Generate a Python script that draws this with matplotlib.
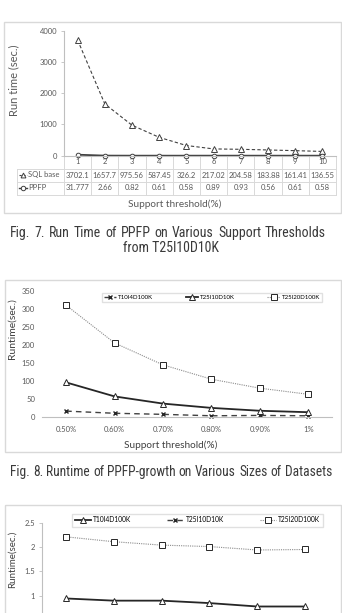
import numpy as np
import matplotlib.pyplot as plt
from matplotlib.patches import Rectangle
from matplotlib.ticker import FormatStrFormatter

plt.rcParams['font.family'] = ['Lato', 'DejaVu Sans']

# Fig. 7 - run time of PPFP vs SQL base (T25I10D10K)
thresholds7 = [1, 2, 3, 4, 5, 6, 7, 8, 9, 10]
sql_base = [3702.1, 1657.7, 975.56, 587.45, 326.2, 217.02, 204.58, 183.88, 161.41, 136.55]
ppfp = [31.777, 2.66, 0.82, 0.61, 0.58, 0.89, 0.93, 0.56, 0.61, 0.58]

# Fig. 8 - runtime on various sizes of datasets
thresholds8 = ['0.50%', '0.60%', '0.70%', '0.80%', '0.90%', '1%']
f8_t10i4d100k = [15, 9, 6, 2, 3, 2]
f8_t25i10d10k = [95, 56, 36, 24, 16, 12]
f8_t25i20d100k = [310, 205, 144, 104, 79, 62]

# third chart (cut off at the bottom of the page)
f9_t10i4d100k = [0.945, 0.9, 0.9, 0.85, 0.78, 0.78]
f9_t25i10d10k = [0.35, 0.33, 0.31, 0.3, 0.28, 0.27]
f9_t25i20d100k = [2.21, 2.11, 2.04, 2.01, 1.94, 1.95]

W, H = 342, 613
fig = plt.figure(figsize=(W / 100, H / 100), dpi=100)


def rect(left, top, right, bottom):
    return [left / W, 1 - bottom / H, (right - left) / W, (bottom - top) / H]


grey_txt = '#595959'
border = '#d9d9d9'
cap_font = ['Roboto Condensed', 'Sofia Sans Condensed', 'DejaVu Sans']
cap_col = '#3a3a3a'

bg = fig.add_axes([0, 0, 1, 1])
bg.set_xlim(0, W)
bg.set_ylim(H, 0)
bg.axis('off')
for (l, t, r, b) in [(3.5, 22, 340.5, 213), (4.5, 280, 340.5, 452), (4.5, 505, 340.5, 650)]:
    bg.add_patch(Rectangle((l, t), r - l, b - t, fill=False, ec=border, lw=1))


def justified(y, text, x0, x1, size, **kw):
    # spread the words of one caption line over the full column width
    words = text.split()
    rend = fig.canvas.get_renderer()
    objs = [bg.text(0, y, w, va='center', ha='left', fontsize=size, **kw) for w in words]
    widths = [o.get_window_extent(rend).width for o in objs]
    need = sum(widths) + 0.22 * size * 100 / 72 * (len(words) - 1)
    if need > x1 - x0:
        k = (x1 - x0) / need
        for o in objs:
            o.set_fontsize(size * k)
        widths = [o.get_window_extent(rend).width for o in objs]
    gap = (x1 - x0 - sum(widths)) / (len(words) - 1)
    x = x0
    for o, w in zip(objs, widths):
        o.set_x(x)
        x += w + gap


def style_axes(ax):
    for s in ['top', 'right']:
        ax.spines[s].set_visible(False)
    ax.spines['left'].set_color('#bfbfbf')
    ax.spines['bottom'].set_color('#bfbfbf')
    ax.tick_params(axis='y', labelsize=5.5, colors=grey_txt, length=2.5, width=0.6, pad=2.5,
                   color='#bfbfbf')
    ax.tick_params(axis='x', length=0)
    ax.set_facecolor('none')


# ---------------- chart 1 ----------------
ax1 = fig.add_axes(rect(64, 30.7, 336, 155.7))
ax1.plot(thresholds7, sql_base, ls=(0, (3, 2)), color='#404040', lw=0.8, marker='^', ms=4,
         mfc='white', mec='#404040', mew=0.7, clip_on=False)
ax1.plot(thresholds7, ppfp, ls='-', color='#404040', lw=1.3, marker='o', ms=3.3,
         mfc='white', mec='#404040', mew=0.7, clip_on=False)
ax1.set_xlim(0.5, 10.5)
ax1.set_ylim(0, 4000)
ax1.set_yticks([0, 1000, 2000, 3000, 4000])
ax1.set_xticks([])
style_axes(ax1)

# data table under the first chart
tr = ax1.get_xaxis_transform()
ax_h = 125.0
row_y = [-(169 - 155.7) / ax_h, -(181.5 - 155.7) / ax_h, -(195 - 155.7) / ax_h]
for i in range(len(thresholds7) + 1):
    ax1.plot([0.5 + i, 0.5 + i], [0, row_y[2]], color=border, lw=0.7, transform=tr, clip_on=False)
for x, a, b in zip(thresholds7, sql_base, ppfp):
    ax1.text(x, -(162 - 155.7) / ax_h, str(x), transform=tr, ha='center', va='center',
             fontsize=5.5, color=grey_txt)
    ax1.text(x, -(175 - 155.7) / ax_h, str(a), transform=tr, ha='center', va='center',
             fontsize=5.5, color=grey_txt)
    ax1.text(x, -(188 - 155.7) / ax_h, str(b), transform=tr, ha='center', va='center',
             fontsize=5.5, color=grey_txt)
for y in [169, 181.5, 195]:
    bg.plot([17, 336], [y, y], color=border, lw=0.7)
bg.plot([17, 17], [169, 195], color=border, lw=0.7)
bg.plot([64, 64], [155.7, 195], color=border, lw=0.7)
bg.plot([18.5, 26.5], [175, 175], ls=(0, (2, 1.5)), color='#404040', lw=0.8)
bg.plot([22.5], [175], marker='^', ms=3.5, mfc='white', mec='#404040', mew=0.7)
bg.plot([18.5, 26.5], [188, 188], ls='-', color='#404040', lw=1.0)
bg.plot([22.5], [188], marker='o', ms=3.2, mfc='white', mec='#404040', mew=0.7)
bg.text(28, 175, 'SQL base', fontsize=5.5, color=grey_txt, va='center')
bg.text(28, 188, 'PPFP', fontsize=5.5, color=grey_txt, va='center')

bg.text(14, 80, 'Run time (sec.)', rotation=90, fontsize=8, color=grey_txt,
        ha='center', va='center')
bg.text(175, 204, 'Support threshold(%)', fontsize=7.2, color=grey_txt, ha='center', va='center')

justified(233, 'Fig. 7. Run Time of PPFP on Various Support Thresholds', 10, 326, 10,
          color=cap_col, family=cap_font)
bg.text(171, 248, 'from T25I10D10K', fontsize=10, color=cap_col, family=cap_font,
        ha='center', va='center')

# ---------------- chart 2 ----------------
ax2 = fig.add_axes(rect(42, 291, 332.4, 416.5))
x8 = np.arange(len(thresholds8))
l1, = ax2.plot(x8, f8_t10i4d100k, ls=(0, (4, 3)), color='#404040', lw=1.0, marker='x', ms=3.5,
               mec='#262626', mew=1.0, clip_on=False)
l2, = ax2.plot(x8, f8_t25i10d10k, ls='-', color='#262626', lw=1.3, marker='^', ms=4,
               mfc='white', mec='#262626', mew=0.7, clip_on=False)
l3, = ax2.plot(x8, f8_t25i20d100k, ls=(0, (1, 1)), color='#8c8c8c', lw=0.8, marker='s', ms=3.8,
               mfc='white', mec='#262626', mew=0.7, clip_on=False)
ax2.set_xlim(-0.5, len(thresholds8) - 0.5)
ax2.set_ylim(0, 350)
ax2.set_yticks(np.arange(0, 351, 50))
ax2.set_xticks(x8)
ax2.set_xticklabels(thresholds8)
style_axes(ax2)
ax2.spines['left'].set_visible(False)
ax2.tick_params(axis='y', length=0, pad=5)
ax2.tick_params(axis='x', labelsize=5.5, colors=grey_txt, pad=7)
ax2.legend([l1, l2, l3], ['T10I4D100K', 'T25I10D10K', 'T25I20D100K'],
           loc='center', bbox_to_anchor=(102 / W, 1 - 303.5 / H, 220 / W, 12 / H),
           bbox_transform=fig.transFigure, mode='expand', ncol=3, fontsize=4.4,
           frameon=True, fancybox=False, edgecolor=border, handlelength=2.0,
           handletextpad=0.3, borderpad=0.35, borderaxespad=0)
bg.text(12, 329, 'Runtime(sec.)', rotation=90, fontsize=7.5, color='#404040',
        ha='center', va='center')
bg.text(171, 445, 'Support threshold(%)', fontsize=7.2, color='#404040', ha='center', va='center')

justified(472, 'Fig. 8. Runtime of PPFP-growth on Various Sizes of Datasets', 10, 332, 10,
          color=cap_col, family=cap_font)

# ---------------- chart 3 ----------------
ax3 = fig.add_axes(rect(42, 522.7, 329, 644.5))
x9 = np.arange(len(thresholds8))
m1, = ax3.plot(x9, f9_t10i4d100k, ls='-', color='#262626', lw=1.3, marker='^', ms=4,
               mfc='white', mec='#262626', mew=0.7)
m2, = ax3.plot(x9, f9_t25i10d10k, ls=(0, (4, 3)), color='#404040', lw=1.0, marker='x', ms=3.5,
               mec='#262626', mew=1.0)
m3, = ax3.plot(x9, f9_t25i20d100k, ls=(0, (1, 1)), color='#8c8c8c', lw=0.8, marker='s', ms=4,
               mfc='white', mec='#262626', mew=0.7)
ax3.set_xlim(-0.5, len(thresholds8) - 0.5)
ax3.set_ylim(0, 2.5)
ax3.set_yticks([1, 1.5, 2, 2.5])
ax3.yaxis.set_major_formatter(FormatStrFormatter('%g'))
ax3.set_xticks([])
style_axes(ax3)
ax3.legend([m1, m2, m3], ['T10I4D100K', 'T25I10D10K', 'T25I20D100K'],
           loc='center', bbox_to_anchor=(72 / W, 1 - 527 / H, 251 / W, 14 / H),
           bbox_transform=fig.transFigure, mode='expand', ncol=3, fontsize=4.8,
           frameon=True, fancybox=False, edgecolor=border, handlelength=2.4,
           handletextpad=0.3, borderpad=0.45, borderaxespad=0)
bg.text(12.5, 559, 'Runtime(sec.)', rotation=90, fontsize=7, color='#404040',
        ha='center', va='center')

fig.savefig('out.png', dpi=100)
